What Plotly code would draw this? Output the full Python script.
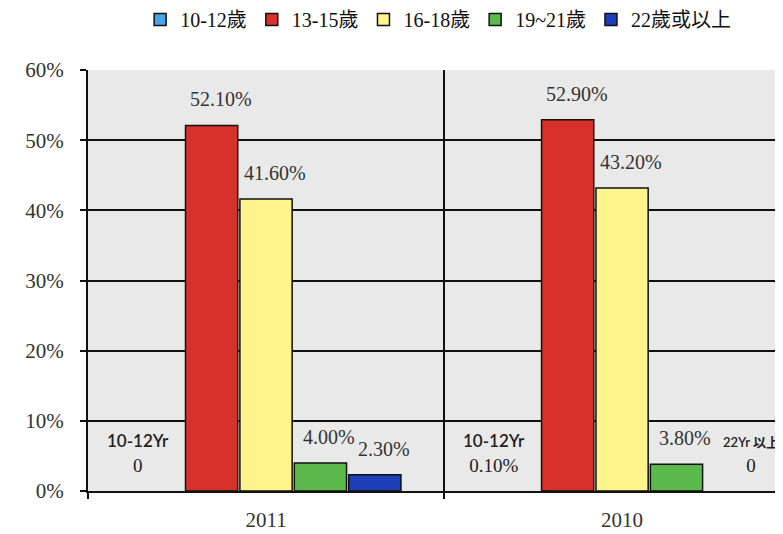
import plotly.graph_objects as go

years = ["2011", "2010"]
series_names = ["10-12歲", "13-15歲", "16-18歲", "19~21歲", "22歲或以上"]
v_10_12 = [0.0, 0.1]
v_13_15 = [52.1, 52.9]
v_16_18 = [41.6, 43.2]
v_19_21 = [4.0, 3.8]
v_22_up = [2.3, 0.0]
y_ticks = [0, 10, 20, 30, 40, 50, 60]

colors = ["#4aa3e6", "#d8302a", "#fff38c", "#5cb94b", "#1d3fb8"]
all_vals = [v_10_12, v_13_15, v_16_18, v_19_21, v_22_up]
xpos = list(range(len(years)))

serif = "Liberation Serif"
cjk = "Liberation Serif, Noto Sans CJK TC"

fig = go.Figure()
for name, vals, col in zip(series_names, all_vals, colors):
    fig.add_trace(go.Bar(
        x=xpos, y=[v if v >= 0.5 else None for v in vals], name=name,
        marker=dict(color=col, line=dict(color="#111111", width=1.5)),
        hoverinfo="skip",
    ))

bargap = 0.236
slot = (1 - bargap) / len(series_names)

def bx(cat_i, s_i):
    return cat_i + (s_i - (len(series_names) - 1) / 2) * slot

# value labels above bars (skip 10-12 group and zeros)
for s_i in range(1, len(series_names)):
    for c_i in range(len(years)):
        v = all_vals[s_i][c_i]
        if v <= 0:
            continue
        fig.add_annotation(
            x=bx(c_i, s_i), y=v, xref="x", yref="y",
            text=f"{v:.2f}%", showarrow=False,
            yanchor="bottom", yshift=13, xshift=9,
            font=dict(family=serif, size=20, color="#333333"),
        )

# labels for small categories
for c_i in range(len(years)):
    v = v_10_12[c_i]
    vtxt = "0" if v == 0 else f"{v:.2f}%"
    fig.add_annotation(
        x=bx(c_i, 0), y=0, xref="x", yref="y", xshift=-19, yshift=13,
        yanchor="bottom", showarrow=False, align="center",
        text=f"<span style='font-family:Lato;font-weight:600;font-size:17px'>10-12Yr</span><br>{vtxt}",
        font=dict(family=serif, size=19, color="#222222"),
    )
c_i = 1
v = v_22_up[c_i]
fig.add_annotation(
    x=bx(c_i, 4), y=0, xref="x", yref="y", xshift=20, yshift=13,
    yanchor="bottom", showarrow=False, align="center",
    text=f"<span style='font-family:Lato, Noto Sans CJK TC;font-weight:600;font-size:13px'>22Yr 以上</span><br>"
         f"{'0' if v == 0 else f'{v:.2f}%'}",
    font=dict(family=serif, size=19, color="#222222"),
)

fig.update_layout(
    width=775, height=526,
    margin=dict(l=80, r=0, t=62, b=43, autoexpand=False),
    paper_bgcolor="white",
    plot_bgcolor="#e9e9e9",
    barmode="group",
    bargap=bargap,
    bargroupgap=0.04,
    showlegend=True,
    legend=dict(
        orientation="h", x=0.555, xref="container", xanchor="center",
        y=0.978, yref="container", yanchor="middle",
        font=dict(family=cjk, size=20, color="#111111"),
        itemwidth=30, tracegroupgap=0,
    ),
    xaxis=dict(
        range=[-0.5, 1.452], automargin=False,
        tickvals=xpos, ticktext=years,
        ticks="", showgrid=False,
        showline=True, linecolor="#111111", linewidth=2,
        tickfont=dict(family=serif, size=21, color="#333333"),
        ticklabelstandoff=9,
        minor=dict(tickvals=[-0.5, 0.5], showgrid=True, gridcolor="#111111",
                   gridwidth=1.5, ticks="outside", ticklen=6, tickcolor="#111111", tickwidth=2),
        zeroline=False,
    ),
    yaxis=dict(
        range=[0, 60], automargin=False,
        tickmode="array", tickvals=y_ticks, ticktext=[f"{t}%" for t in y_ticks],
        showgrid=True, gridcolor="#111111", gridwidth=1.5,
        showline=True, linecolor="#111111", linewidth=2,
        ticks="outside", ticklen=6, tickwidth=2, tickcolor="#111111",
        tickfont=dict(family=serif, size=21, color="#333333"),
        ticklabelstandoff=12,
        zeroline=False,
    ),
)

fig.write_html("out.html")
